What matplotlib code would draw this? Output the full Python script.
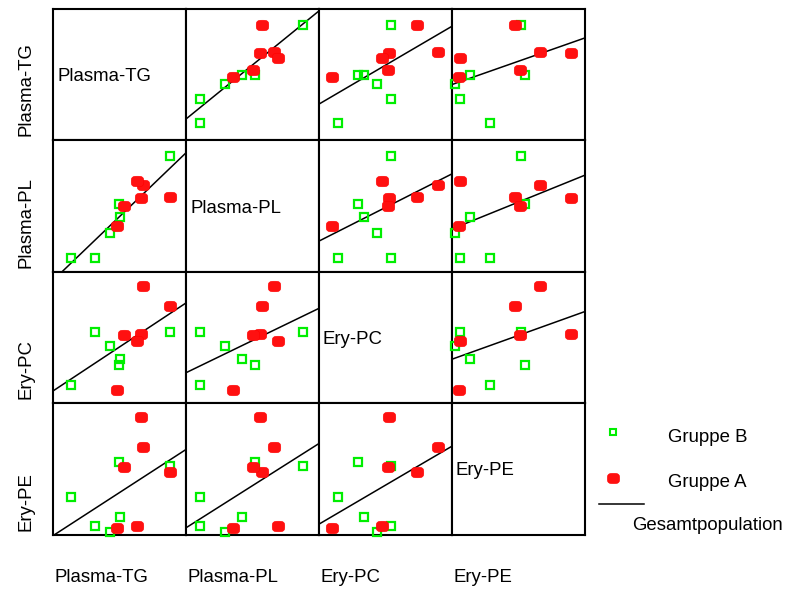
import numpy as np
import matplotlib
matplotlib.use("Agg")
import matplotlib.pyplot as plt

plt.rcParams['font.family'] = ['Liberation Sans', 'DejaVu Sans']

variables = ["Plasma-TG", "Plasma-PL", "Ery-PC", "Ery-PE"]

# values on a relative 0-100 scale (no ticks in original)
tg_b = [87.5, 50.0, 49.5, 43.0, 31.3, 13.3]
pl_b = [88.0, 42.0, 51.5, 29.3, 10.3, 10.3]
pc_b = [54.4, 33.8, 29.3, 43.9, 54.4, 14.0]
pe_b = [52.3, 13.5, 55.0, 2.2, 6.3, 28.4]

tg_a = [87.5, 67.2, 66.3, 63.0, 53.3, 48.3]
pl_a = [57.0, 66.0, 55.8, 68.8, 50.3, 35.0]
pc_a = [73.8, 89.5, 53.0, 47.7, 51.6, 9.8]
pe_a = [47.9, 66.6, 89.8, 6.4, 51.1, 5.1]

group_b = [tg_b, pl_b, pc_b, pe_b]
group_a = [tg_a, pl_a, pc_a, pe_a]
all_vals = [np.array(b + a) for b, a in zip(group_b, group_a)]

W, H = 787, 590
fig = plt.figure(figsize=(W / 100, H / 100), dpi=100)

left0, top0 = 53.3, 9.0
cw, rh = 132.85, 131.4
fs = 13.4
green = '#00ee00'
red = '#ff1010'

# rounded-rectangle (superellipse) blob marker
t = np.linspace(0, 2 * np.pi, 61)
ex = 2 / 3.2
blob = np.column_stack([np.sign(np.cos(t)) * np.abs(np.cos(t)) ** ex,
                        0.84 * np.sign(np.sin(t)) * np.abs(np.sin(t)) ** ex])

for r in range(4):
    for c in range(4):
        x0 = left0 + c * cw
        y0 = top0 + r * rh
        ax = fig.add_axes([x0 / W, 1 - (y0 + rh) / H, cw / W, rh / H])
        ax.set_xlim(0, 100)
        ax.set_ylim(0, 100)
        ax.set_xticks([])
        ax.set_yticks([])
        for s in ax.spines.values():
            s.set_linewidth(1.5)
            s.set_color('black')
        if r == c:
            ax.text(0.03, 0.45, variables[r], transform=ax.transAxes,
                    ha='left', va='baseline', fontsize=fs)
            continue
        xv = all_vals[c]
        yv = all_vals[r]
        slope, icpt = np.polyfit(xv, yv, 1)
        xs = np.array([0, 100])
        ax.plot(xs, icpt + slope * xs, color='black', lw=1.1, zorder=2)
        ax.plot(group_b[c], group_b[r], ls='none', marker='s', ms=6.3,
                mfc='none', mec=green, mew=1.6, clip_on=False, zorder=3)
        ax.plot(group_a[c], group_a[r], ls='none', marker=blob, ms=9.0,
                mfc=red, mec='#ff0000', mew=0.4, clip_on=False, zorder=4)

# row labels (left) and column labels (bottom)
for i, name in enumerate(variables):
    ybot = top0 + (i + 1) * rh - 4
    fig.text(26 / W, 1 - ybot / H, name, rotation=90, ha='center', va='bottom',
             fontsize=fs)
    fig.text((left0 + i * cw + 1.5) / W, 1 - 582 / H, name, ha='left',
             va='baseline', fontsize=fs)

# legend
lax = fig.add_axes([0, 0, 1, 1], facecolor='none')
lax.set_xlim(0, W)
lax.set_ylim(H, 0)
lax.axis('off')
lax.plot([612.5], [431.5], ls='none', marker='s', ms=5, mfc='none', mec=green, mew=1.5)
lax.plot([612.7], [477.7], ls='none', marker=blob, ms=8.8, mfc=red, mec='#ff0000', mew=0.4)
lax.plot([599, 644], [504.3, 504.3], color='black', lw=1.1)
lax.text(668, 441.7, "Gruppe B", ha='left', va='baseline', fontsize=fs)
lax.text(668, 487, "Gruppe A", ha='left', va='baseline', fontsize=fs)
lax.text(632, 530, "Gesamtpopulation", ha='left', va='baseline', fontsize=fs)

fig.savefig("out.png", dpi=100)
